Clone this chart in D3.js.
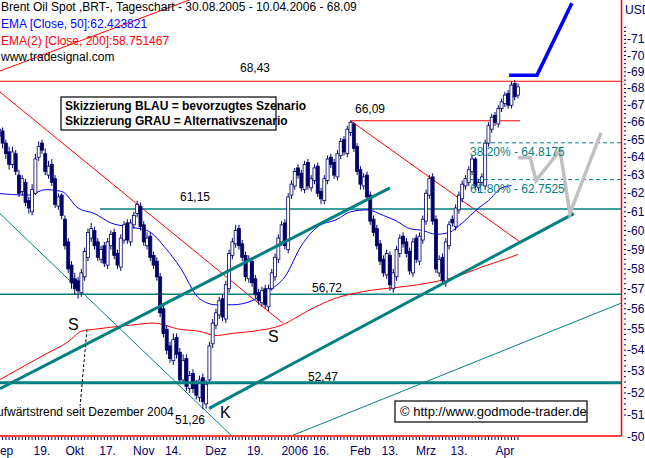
<!DOCTYPE html>
<html><head><meta charset="utf-8">
<script src="https://cdn.jsdelivr.net/npm/d3@7"></script>
<style>body{margin:0;background:#fff}text{font-family:"Liberation Sans",Arial,sans-serif}</style>
</head><body><svg id="c" width="645" height="458"></svg>
<script>
// Brent daily candles 30.08.2005 - 10.04.2006 (trading day index 0..159)
var opens = [64.6,65.2,65.5,64.8,64.3,63.6,64.2,63.0,62.1,62.6,
61.6,61.0,62.0,64.0,64.8,64.2,63.0,63.6,62.8,61.3,
61.9,60.6,59.4,58.2,57.5,57.4,56.8,57.6,58.6,59.6,
60.0,59.4,58.5,59.2,58.2,59.2,59.9,58.8,58.1,59.5,
60.4,59.4,60.3,60.9,61.3,60.3,59.2,59.7,58.7,58.4,
57.6,56.0,55.0,54.2,53.5,54.6,53.9,52.6,53.6,52.2,
52.9,52.4,51.8,52.7,51.5,52.6,54.3,55.2,55.7,56.5,
55.5,57.0,58.7,59.3,60.1,59.3,58.7,57.5,58.4,57.5,
56.8,56.3,57.0,56.1,57.0,57.6,58.5,59.4,60.4,59.0,
61.9,62.4,63.4,63.1,62.2,63.7,62.3,62.7,63.5,62.1,
61.6,62.7,64.0,63.7,62.9,64.1,65.0,64.2,65.4,65.9,
64.6,63.3,62.4,63.0,61.9,60.6,60.1,59.3,58.5,57.7,
58.7,57.0,57.6,58.8,59.7,59.4,58.9,57.8,59.6,58.4,
59.5,60.5,61.9,62.9,60.6,57.8,58.6,57.3,59.2,60.6,
60.2,61.1,61.7,62.4,62.6,63.2,63.9,62.3,62.6,62.4,
64.8,65.6,66.4,65.9,66.8,67.1,67.7,67.0,68.3,67.6];
var highs = [65.3,66.2,65.7,65.0,64.6,64.6,64.4,63.3,63.0,62.8,
61.8,62.5,64.2,64.9,65.0,64.5,63.8,63.9,63.0,62.0,
62.0,60.8,59.6,58.4,57.8,57.6,58.0,59.1,60.1,60.4,
60.2,59.6,59.2,59.4,59.6,60.0,60.1,59.0,59.8,60.5,
60.6,60.6,61.0,61.6,61.5,60.5,59.9,59.9,58.9,58.6,
57.8,56.2,55.2,54.4,54.8,54.8,54.1,53.8,53.8,53.0,
53.1,52.6,52.8,52.9,52.6,54.4,55.5,56.0,56.6,56.7,
57.4,59.0,59.6,60.3,60.3,59.5,58.9,58.7,58.6,57.7,
57.0,57.1,57.2,57.2,58.0,58.8,59.8,60.5,60.6,62.0,
62.7,63.4,63.6,63.3,63.8,63.9,63.0,63.6,63.7,62.3,
63.0,64.1,64.2,63.9,64.4,65.1,65.2,65.8,66.09,66.0,
64.8,63.5,63.1,63.2,62.1,60.8,60.3,59.5,58.7,59.0,
58.9,58.0,59.2,59.8,59.9,59.6,59.1,59.6,59.8,59.9,
60.8,62.2,63.0,63.1,60.8,58.7,58.8,59.6,60.5,60.8,
61.4,62.1,62.7,63.0,63.5,64.1,64.0,62.8,63.1,65.0,
66.0,66.5,66.6,67.0,67.4,67.8,67.9,68.4,68.5,68.3];
var lows = [64.4,64.9,64.5,63.9,63.3,63.4,63.0,61.8,61.9,61.3,
60.9,60.8,61.9,63.8,64.2,63.0,62.8,62.4,61.2,61.1,
60.6,59.0,57.8,57.0,56.7,56.5,56.6,57.4,58.4,59.4,
59.0,58.4,58.3,58.1,58.0,59.0,58.5,58.0,57.9,59.3,
59.3,59.2,60.1,60.7,60.0,59.2,59.0,58.4,58.0,57.4,
55.6,54.6,53.8,53.4,53.3,53.6,52.4,52.4,52.1,52.0,
52.0,51.7,51.6,51.26,51.3,52.4,54.1,55.0,55.5,55.4,
55.3,56.8,58.5,59.1,59.0,58.4,57.4,57.3,57.1,56.5,
56.2,56.1,56.0,55.9,56.9,57.4,58.3,59.2,59.0,58.8,
61.7,62.2,62.8,62.1,62.0,62.2,62.1,62.5,61.8,61.4,
61.4,62.5,63.4,62.8,62.7,63.9,64.1,64.0,65.2,64.3,
63.0,62.2,62.2,61.6,60.3,59.7,59.0,58.2,57.6,57.5,
56.9,56.8,57.4,58.6,59.1,58.6,57.7,57.6,58.3,58.2,
59.3,60.3,61.7,60.3,57.8,57.6,57.2,57.1,59.0,60.2,
60.0,60.9,61.5,62.2,62.4,63.0,62.2,62.1,62.4,62.2,
64.6,65.4,65.8,65.7,66.6,66.9,66.8,66.8,67.3,67.4];
var closes = [65.0,65.6,64.8,64.2,63.6,64.3,63.2,62.0,62.8,61.5,
61.2,62.2,63.9,64.6,64.4,63.2,63.5,62.6,61.4,61.8,
60.8,59.2,58.0,57.3,57.0,56.9,57.8,58.9,59.9,60.1,
59.2,58.6,59.0,58.3,59.4,59.8,58.7,58.2,59.6,60.3,
59.5,60.4,60.8,61.4,60.2,59.4,59.6,58.6,58.2,57.6,
55.8,54.8,54.0,53.6,54.5,53.8,52.6,53.5,52.3,52.8,
52.2,51.9,52.6,51.6,52.4,54.2,55.3,55.8,56.4,55.6,
57.2,58.8,59.4,60.0,59.2,58.6,57.6,58.5,57.3,56.7,
56.4,56.9,56.2,57.0,57.8,58.6,59.6,60.3,59.2,61.8,
62.5,63.2,63.0,62.3,63.6,62.4,62.8,63.4,62.0,61.7,
62.8,63.9,63.6,63.0,64.2,64.9,64.3,65.6,66.0,64.5,
63.2,62.5,62.9,61.8,60.5,59.9,59.2,58.4,57.8,58.8,
57.2,57.8,59.0,59.6,59.3,58.8,57.9,59.4,58.5,59.7,
60.6,62.0,62.8,60.5,58.0,58.5,57.4,59.4,60.3,60.4,
61.2,61.9,62.5,62.8,63.3,63.9,62.4,62.6,62.9,64.8,
65.8,66.3,66.0,66.8,67.2,67.6,67.0,68.2,67.5,68.09];

// EMA readings [index, value]
var ema50 = [[0,62.0],[10,61.9],[15,62.2],[20,62.1],[25,61.2],[30,60.9],[35,60.4],[40,60.2],[46,60.0],[52,59.0],[56,58.1],[62,56.5],[67,56.2],[72,56.2],[78,56.4],[83,56.9],[88,57.6],[93,59.2],[98,60.2],[104,60.6],[108,61.0],[113,61.1],[118,60.8],[122,60.5],[126,60.1],[130,60.0],[134,59.8],[138,59.9],[142,60.4],[147,61.2],[150,61.6],[154,62.3],[157,62.42]];
var ema200 = [[1,52.6],[8,53.2],[15,53.8],[22,54.4],[26,54.9],[30,55.0],[35,55.1],[41,55.2],[48,55.3],[56,55.0],[62,54.9],[67,54.7],[72,54.8],[78,54.9],[87,55.2],[95,55.9],[103,56.5],[110,56.8],[118,57.0],[124,57.1],[132,57.3],[140,57.6],[148,58.1],[155,58.5],[159,58.75]];

var xTicks = [[2,"Sep"],[14,"19."],[24,"Okt"],[34,"17."],[45,"Nov"],[54,"14."],[67,"Dez"],[79,"19."],[91,"2006"],[99,"16."],[111,"Feb"],[120,"13."],[131,"Mrz"],[141,"13."],[155,"Apr"]];
var yTicks = [51,52,53,54,55,56,57,58,59,60,61,62,63,64,65,66,67,68,69,70,71];

// drawn lines [[index, price], ...]
var redLines = [[[1.2,69.05],[60,73.6]],[[-10,69.6],[87.4,55.3]],[[108,66.09],[159.6,59.4]],[[108,66.09],[159.6,66.09]],[[-5,68.43],[200,68.43]]];
var tealThick = [[[-5,52.47],[200,52.47]],[[1.2,52.2],[120,62.3]],[[64.9,51.3],[176,60.9]]];
var tealThin = [[[31.7,61.15],[200,61.15]],[[-5,56.72],[200,56.72]],[[1.2,60.9],[71.6,50.1]],[[90.5,50.1],[190.7,56.3]]];
var fibs = [[64.8175,"38.20% - 64.8175"],[62.7525,"61.80% - 62.7525"]];
var blueScen = [[156.3,68.8],[164.8,68.8],[175.4,73.3]];
var greyScen = [[159,63.97],[162.7,63.97],[164.5,62.7],[171.8,64.4],[174.8,60.9],[184.3,65.4]];

var svg = d3.select("#c");
var x = d3.scaleLinear().domain([0,159]).range([-4,518]);
var y = d3.scaleLog().domain([51,71]).range([415,39.4]);
var line = d3.line().x(function(d){return x(d[0])}).y(function(d){return y(d[1])});

svg.append("clipPath").attr("id","cp").append("rect").attr("x",0).attr("y",0).attr("width",621).attr("height",436);
var g = svg.append("g").attr("clip-path","url(#cp)");

// header texts
svg.append("text").attr("x",1).attr("y",11).attr("font-size",12).text("Brent Oil Spot ,BRT-, Tageschart - 30.08.2005 - 10.04.2006 - 68.09");
svg.append("text").attr("x",1).attr("y",28).attr("font-size",12).attr("fill","#0000ff").text("EMA [Close, 50]:62.423821");
svg.append("text").attr("x",1).attr("y",45).attr("font-size",12).attr("fill","#ff0000").text("EMA(2) [Close, 200]:58.751467");
svg.append("text").attr("x",1).attr("y",61).attr("font-size",12).text("www.tradesignal.com");

redLines.forEach(function(l){ g.append("path").attr("d",line(l)).attr("stroke","#ff0000").attr("fill","none").attr("stroke-width",1); });
tealThin.forEach(function(l,i){ g.append("path").attr("d",line(l)).attr("stroke","#008080").attr("fill","none").attr("stroke-width",i<2?1.5:1); });

g.append("path").attr("d",line.curve(d3.curveMonotoneX)(ema50)).attr("stroke","#0000ff").attr("fill","none");
g.append("path").attr("d",line(ema200)).attr("stroke","#ff0000").attr("fill","none");
line.curve(d3.curveLinear);

// candles
var cw = 3;
var c = g.selectAll("g.cd").data(closes).enter().append("g");
c.append("line").attr("x1",function(d,i){return x(i)}).attr("x2",function(d,i){return x(i)})
 .attr("y1",function(d,i){return y(highs[i])}).attr("y2",function(d,i){return y(lows[i])}).attr("stroke","#000066");
c.append("rect").attr("x",function(d,i){return x(i)-cw/2}).attr("width",cw)
 .attr("y",function(d,i){return y(Math.max(opens[i],d))})
 .attr("height",function(d,i){return Math.max(1,Math.abs(y(opens[i])-y(d)))})
 .attr("fill",function(d,i){return d>=opens[i]?"#ffffff":"#000066"}).attr("stroke","#000066").attr("stroke-width",0.8);

tealThick.forEach(function(l){ g.append("path").attr("d",line(l)).attr("stroke","#008080").attr("fill","none").attr("stroke-width",3); });

fibs.forEach(function(f){
  g.append("line").attr("x1",x(144.4)).attr("x2",621).attr("y1",y(f[0])).attr("y2",y(f[0])).attr("stroke","#008080").attr("stroke-dasharray","4,3");
  svg.append("text").attr("x",470).attr("y",y(f[0])+13).attr("font-size",12).attr("fill","#008080").text(f[1]);
});
g.append("path").attr("d",line(greyScen)).attr("stroke","#c0c0c0").attr("fill","none").attr("stroke-width",3.5);
g.append("path").attr("d",line(blueScen)).attr("stroke","#0000ff").attr("fill","none").attr("stroke-width",3.5);

// dashed pointer
g.append("path").attr("d",line([[27.7,55.0],[25.6,51.4]])).attr("stroke","#000").attr("stroke-dasharray","3,2").attr("fill","none");

// labels
var labs = [[240,72,"68,43"],[355,113,"66,09"],[180,201,"61,15"],[312,292,"56,72"],[308,381,"52,47"],[175,424,"51,26"]];
labs.forEach(function(l){ svg.append("text").attr("x",l[0]).attr("y",l[1]).attr("font-size",12).text(l[2]); });
[[68,330,"S"],[268,342,"S"],[220,418,"K"]].forEach(function(l){ svg.append("text").attr("x",l[0]).attr("y",l[1]).attr("font-size",16).text(l[2]); });
svg.append("text").attr("x",-3).attr("y",416).attr("font-size",12).text("ufwärtstrend seit Dezember 2004");

svg.append("rect").attr("x",61).attr("y",97).attr("width",215).attr("height",33).attr("fill","#fff").attr("stroke","#000").attr("stroke-width",1.2);
svg.append("text").attr("x",65).attr("y",110).attr("font-size",12).attr("font-weight","bold").text("Skizzierung BLAU = bevorzugtes Szenario");
svg.append("text").attr("x",65).attr("y",125).attr("font-size",12).attr("font-weight","bold").text("Skizzierung GRAU = Alternativszenario");

svg.append("rect").attr("x",395).attr("y",401).attr("width",192).attr("height",21).attr("fill","#fff").attr("stroke","#000").attr("stroke-width",1.2);
svg.append("text").attr("x",400).attr("y",416).attr("font-size",13).text("© http://www.godmode-trader.de");

// right axis
svg.append("line").attr("x1",621.5).attr("x2",621.5).attr("y1",0).attr("y2",436).attr("stroke","#ff0000").attr("stroke-width",1.5);
svg.append("text").attr("x",625).attr("y",14).attr("font-size",12).attr("fill","#000066").text("USD");
var minor = d3.range(51,72,0.25);
svg.selectAll("line.mn").data(minor).enter().append("line").attr("x1",624).attr("x2",626)
 .attr("y1",function(d){return y(d)}).attr("y2",function(d){return y(d)}).attr("stroke","#000066");
svg.selectAll("text.yt").data(yTicks).enter().append("text").attr("x",627).attr("y",function(d){return y(d)+4})
 .attr("font-size",12).attr("fill","#000066").text(function(d){return "-"+d});
svg.append("text").attr("x",627).attr("y",y(50)+4).attr("font-size",12).attr("fill","#000066").text("-50");

// bottom axis
svg.append("line").attr("x1",0).attr("x2",621).attr("y1",436).attr("y2",436).attr("stroke","#ff0000").attr("stroke-width",1.5);
svg.selectAll("line.xd").data(d3.range(0,160)).enter().append("line").attr("x1",function(d){return x(d)}).attr("x2",function(d){return x(d)})
 .attr("y1",437).attr("y2",440).attr("stroke","#000066");
svg.selectAll("text.xt").data(xTicks).enter().append("text").attr("x",function(d){return x(d[0])}).attr("y",455)
 .attr("text-anchor","middle").attr("font-size",12).attr("fill","#000066").text(function(d){return d[1]});
</script></body></html>
